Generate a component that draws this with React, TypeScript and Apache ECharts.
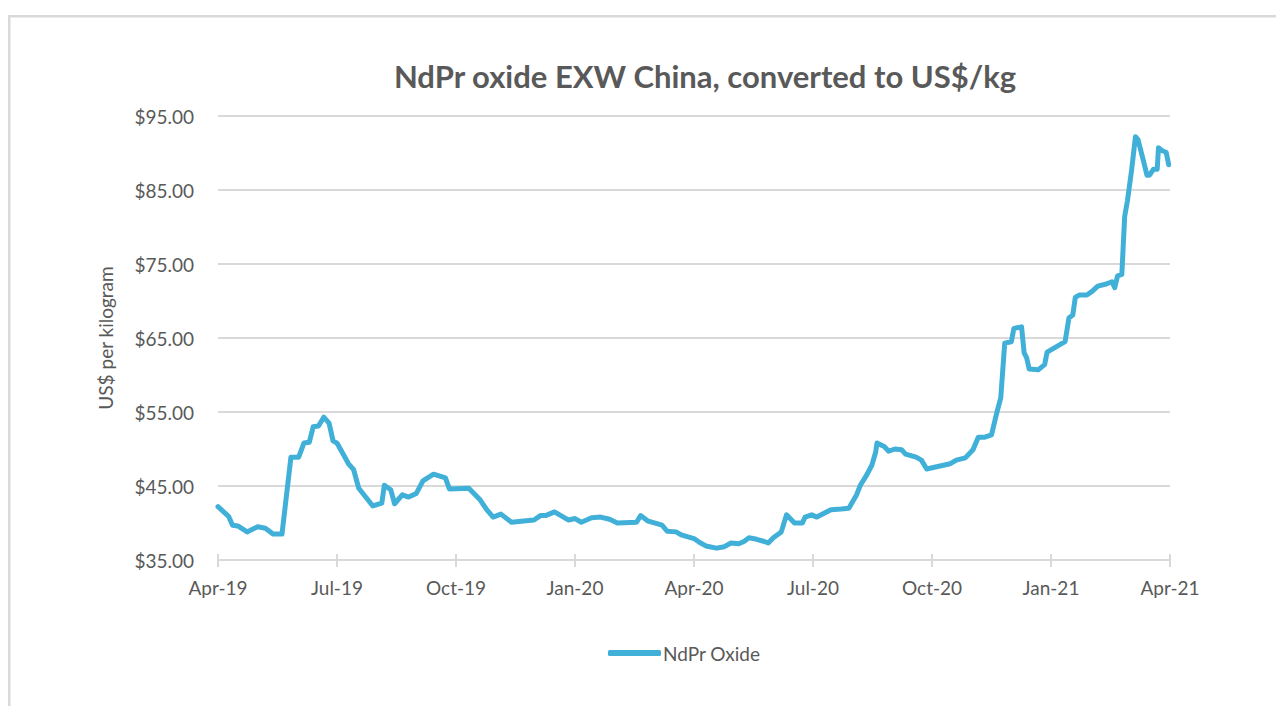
import React, { useEffect, useRef } from "react";
import * as echarts from "echarts";

const dates = [
  "2019-04-01","2019-04-09","2019-04-12","2019-04-16","2019-04-23","2019-05-01","2019-05-07","2019-05-13","2019-05-20","2019-05-27",
  "2019-06-02","2019-06-06","2019-06-10","2019-06-13","2019-06-17","2019-06-21","2019-06-25","2019-06-28","2019-07-01","2019-07-10",
  "2019-07-14","2019-07-18","2019-07-29","2019-08-05","2019-08-07","2019-08-12","2019-08-15","2019-08-21","2019-08-26","2019-09-01",
  "2019-09-06","2019-09-14","2019-09-23","2019-09-26","2019-10-11","2019-10-20","2019-10-25","2019-10-30","2019-11-05","2019-11-13",
  "2019-11-24","2019-11-30","2019-12-05","2019-12-09","2019-12-16","2019-12-21","2019-12-27","2020-01-01","2020-01-06","2020-01-14",
  "2020-01-21","2020-01-28","2020-02-03","2020-02-17","2020-02-20","2020-02-25","2020-03-07","2020-03-11","2020-03-18","2020-03-22",
  "2020-04-01","2020-04-05","2020-04-10","2020-04-18","2020-04-24","2020-04-29","2020-05-05","2020-05-09","2020-05-13","2020-05-19",
  "2020-05-25","2020-05-28","2020-06-01","2020-06-07","2020-06-11","2020-06-17","2020-06-23","2020-06-25","2020-06-30","2020-07-04",
  "2020-07-15","2020-07-23","2020-07-29","2020-08-04","2020-08-07","2020-08-12","2020-08-16","2020-08-19","2020-08-20","2020-08-26",
  "2020-08-29","2020-09-03","2020-09-08","2020-09-11","2020-09-19","2020-09-23","2020-09-27","2020-10-02","2020-10-10","2020-10-15",
  "2020-10-20","2020-10-27","2020-11-02","2020-11-06","2020-11-11","2020-11-16","2020-11-20","2020-11-23","2020-11-26","2020-12-01",
  "2020-12-03","2020-12-09","2020-12-11","2020-12-13","2020-12-15","2020-12-22","2020-12-27","2020-12-29","2021-01-05","2021-01-12",
  "2021-01-15","2021-01-18","2021-01-20","2021-01-23","2021-01-29","2021-02-02","2021-02-06","2021-02-12","2021-02-16","2021-02-18",
  "2021-02-20","2021-02-23","2021-02-25","2021-02-27","2021-03-02","2021-03-05","2021-03-07","2021-03-11","2021-03-14","2021-03-16",
  "2021-03-19","2021-03-22","2021-03-23","2021-03-26","2021-03-29","2021-03-31"
];

const prices = [
  42.2,40.9,39.7,39.6,38.8,39.5,39.3,38.5,38.5,48.9,
  48.9,50.8,50.9,53.0,53.1,54.3,53.5,51.1,50.8,48.0,
  47.2,44.7,42.3,42.7,45.1,44.5,42.6,43.8,43.5,44.0,
  45.7,46.6,46.1,44.6,44.7,43.1,41.8,40.8,41.2,40.1,
  40.3,40.4,41.0,41.0,41.5,41.0,40.4,40.6,40.1,40.7,
  40.8,40.5,40.0,40.1,41.0,40.3,39.7,38.9,38.8,38.4,
  37.9,37.4,36.9,36.6,36.8,37.3,37.2,37.5,38.0,37.8,
  37.5,37.3,38.0,38.8,41.1,40.0,40.0,40.8,41.1,40.8,
  41.8,41.9,42.0,43.8,45.1,46.5,47.8,49.6,50.8,50.3,
  49.7,50.0,49.9,49.3,48.9,48.5,47.3,47.5,47.8,48.0,
  48.5,48.8,49.9,51.6,51.6,51.9,54.9,56.9,64.3,64.5,
  66.3,66.5,63.0,62.3,60.8,60.7,61.4,63.1,63.8,64.5,
  67.7,68.1,70.5,70.8,70.8,71.3,72.0,72.3,72.6,71.8,
  73.4,73.6,81.4,83.6,87.7,92.2,91.8,89.1,87.0,87.0,
  87.8,87.8,90.7,90.3,90.1,88.4
];

const tickLabels = ["Apr-19","Jul-19","Oct-19","Jan-20","Apr-20","Jul-20","Oct-20","Jan-21","Apr-21"];

const seriesName = "NdPr Oxide";
const titleText = "NdPr oxide EXW China, converted to US$/kg";
const yAxisName = "US$ per kilogram";

// months since 1 Apr 2019 (fractional)
function monthIndex(s: string): number {
  const [y, m, d] = s.split("-").map(Number);
  const dim = new Date(y, m, 0).getDate();
  return (y - 2019) * 12 + (m - 4) + (d - 1) / dim;
}

const FONT = "Lato, 'Open Sans', sans-serif";
const TEXT = "#595959";
const GRID = "#d9d9d9";
const LINE = "#41B0D8";

export default function App() {
  const ref = useRef<HTMLDivElement>(null);
  useEffect(() => {
    document.body.style.margin = "0";
    if (!ref.current) return;
    const chart = echarts.init(ref.current, null, { renderer: "svg" });
    const data = dates.map((d, i) => [monthIndex(d), prices[i]]);
    chart.setOption({
      animation: false,
      backgroundColor: "#ffffff",
      textStyle: { fontFamily: FONT },
      title: {
        text: titleText,
        left: 700,
        top: 55,
        textAlign: "center",
        textStyle: { fontFamily: FONT, fontSize: 31, fontWeight: "bold", color: TEXT },
      },
      graphic: [
        {
          type: "rect",
          silent: true,
          shape: { x: 9.25, y: 16.25, width: 1400, height: 800 },
          style: { fill: "none", stroke: GRID, lineWidth: 2.5 },
        },
      ],
      legend: {
        left: 603,
        top: 638,
        icon: "roundRect",
        itemWidth: 53,
        itemHeight: 6,
        itemGap: 10,
        textStyle: { fontFamily: FONT, fontSize: 19, color: TEXT, lineHeight: 20, padding: [0, 0, 0, -3] },
        data: [seriesName],
      },
      grid: { left: 218, right: 106, top: 116, bottom: 146, containLabel: false },
      xAxis: [
        {
          type: "value",
          min: 0,
          max: 24,
          interval: 3,
          position: "bottom",
          axisLine: { show: true, lineStyle: { color: GRID, width: 2 } },
          axisTick: { show: true, inside: false, length: 7, lineStyle: { color: GRID, width: 2 } },
          axisLabel: {
            margin: 18,
            fontFamily: FONT,
            fontSize: 19,
            color: TEXT,
            formatter: (v: number) => tickLabels[Math.round(v / 3)] ?? "",
          },
          splitLine: { show: false },
        },
        {
          type: "value",
          min: 0,
          max: 24,
          interval: 3,
          position: "bottom",
          axisLine: { show: false },
          axisTick: { show: true, inside: true, length: 6, lineStyle: { color: GRID, width: 2 } },
          axisLabel: { show: false },
          splitLine: { show: false },
        },
      ],
      yAxis: {
        type: "value",
        min: 35,
        max: 95,
        interval: 10,
        name: yAxisName,
        nameLocation: "middle",
        nameRotate: 90,
        nameGap: 103,
        nameTextStyle: { fontFamily: FONT, fontSize: 19, color: TEXT },
        axisLine: { show: false },
        axisTick: { show: false },
        axisLabel: {
          margin: 24,
          fontFamily: FONT,
          fontSize: 19,
          color: TEXT,
          formatter: (v: number) => "$" + v.toFixed(2),
        },
        splitLine: { show: true, lineStyle: { color: GRID, width: 2 } },
      },
      series: [
        {
          name: seriesName,
          type: "line",
          xAxisIndex: 0,
          data,
          showSymbol: false,
          symbol: "none",
          smooth: false,
          lineStyle: { color: LINE, width: 5, cap: "round", join: "round" },
          itemStyle: { color: LINE },
        },
      ],
    });
    return () => chart.dispose();
  }, []);
  return <div ref={ref} style={{ width: 1276, height: 706 }} />;
}
